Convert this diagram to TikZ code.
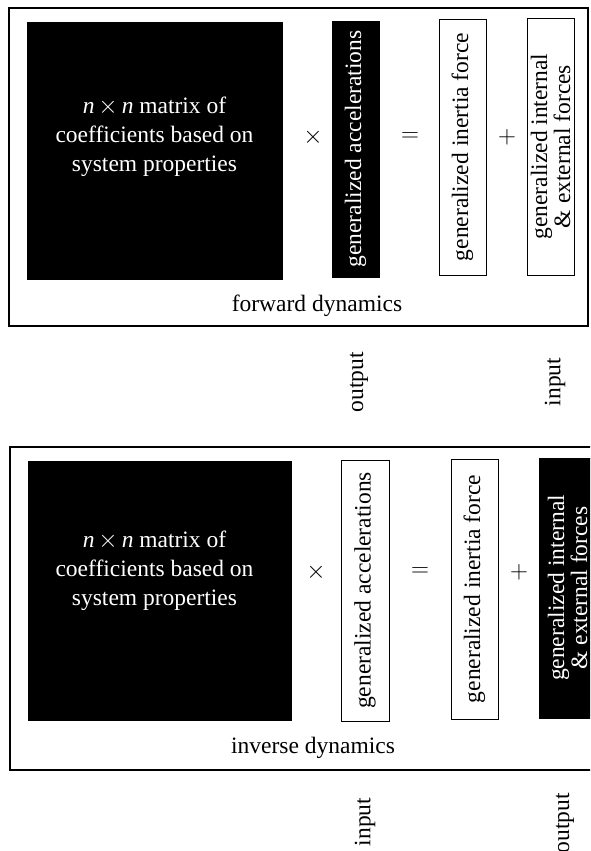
\documentclass[tikz,border=0pt]{standalone}
\usepackage{fontspec}
\setmainfont{Liberation Serif}
\tikzset{
  darkbox/.style={fill=black, draw=black, text=white, inner sep=0pt},
  lightbox/.style={fill=white, draw=black, line width=0.8pt, inner sep=0pt},
  uptext/.style={rotate=90, align=center, inner sep=0pt, font=\fontsize{23.5}{23}\selectfont},
  plaintext/.style={inner sep=0.75pt, align=center, font=\fontsize{23.5}{29}\selectfont},
  frame/.style={draw=black, line width=2pt},
}

\begin{document}
\begin{tikzpicture}[x=1pt,y=1pt,yscale=-1,xscale=1]
\clip (0,0) rectangle (590,851);
% forward dynamics
\draw[frame]    (8.5,8) rectangle (588,326) ;
\node[darkbox, minimum width=255, minimum height=257] (fmat) at (154.5,150.5) {};
\node[darkbox, uptext, minimum width=256, minimum height=47] (facc) at (355.5,149) {generalized accelerations};
\node[lightbox, uptext, minimum width=256, minimum height=47] (finert) at (462.5,147) {generalized inertia force};
\node[lightbox, uptext, minimum width=257, minimum height=47] (fext) at (550.5,146.5) {generalized internal\\\& external forces};
% Text Node
\node[plaintext, text=white] (fmattxt) at (154.5,137) {\textit{n}\,$\times$\,\textit{n} matrix of\\coefficients based on\\system properties};
% Text Node
\node[plaintext] (ftimes) at (313,137) {$\times$};
% Text Node
\node[plaintext] (feq) at (410,137) {$=$};
% Text Node
\node[plaintext] (fplus) at (507,137) {$+$};
% Text Node
\node[plaintext] (fname) at (317,306) {forward dynamics};
% Text Node
\node[uptext] (fout) at (359,382) {output};
% Text Node
\node[uptext] (fin) at (555,382) {input};

% inverse dynamics
\draw[frame]    (9.5,447) rectangle (610,769.5) ;
\node[darkbox, minimum width=263, minimum height=259] (imat) at (159.5,590.5) {};
\node[lightbox, uptext, minimum width=261, minimum height=48] (iacc) at (365,590.5) {generalized accelerations};
\node[lightbox, uptext, minimum width=260, minimum height=47] (iinert) at (474.5,589) {generalized inertia force};
\node[darkbox, uptext, minimum width=260, minimum height=57] (iext) at (567.5,588) {generalized internal\\\& external forces};
% Text Node
\node[plaintext, text=white] (imattxt) at (154.5,571) {\textit{n}\,$\times$\,\textit{n} matrix of\\coefficients based on\\system properties};
% Text Node
\node[plaintext] (itimes) at (316,572) {$\times$};
% Text Node
\node[plaintext] (ieq) at (420,572) {$=$};
% Text Node
\node[plaintext] (iplus) at (519,572) {$+$};
% Text Node
\node[plaintext] (iname) at (313,748) {inverse dynamics};
% Text Node
\node[uptext] (iin) at (365,822) {input};
% Text Node
\node[uptext] (iout) at (565,823) {output};
\end{tikzpicture}
\end{document}
